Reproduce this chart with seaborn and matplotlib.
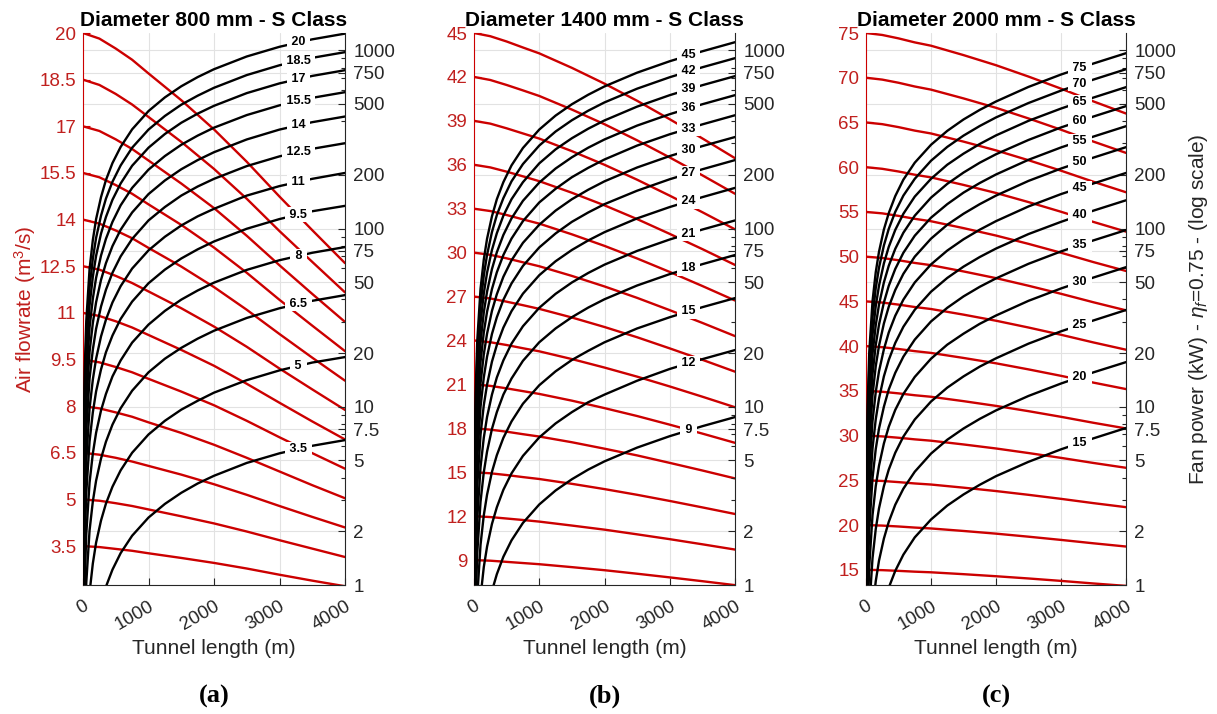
import numpy as np
import pandas as pd
import matplotlib
matplotlib.use("Agg")
import matplotlib.pyplot as plt
from matplotlib.ticker import FixedLocator, FixedFormatter, NullFormatter, NullLocator
import seaborn as sns

sns.set_theme(style="ticks")
plt.rcParams["font.family"] = ["Liberation Sans", "DejaVu Sans"]
plt.rcParams["mathtext.fontset"] = "custom"
plt.rcParams["mathtext.rm"] = "Liberation Sans"
plt.rcParams["mathtext.it"] = "Liberation Sans:italic"

RED = "#cc0000"
RED_TXT = "#c0201e"
INK = "#262626"

# Tunnel lengths (m) at which the curves are tabulated
length_flow = [0, 250, 500, 750, 1000, 1500, 2000, 2500, 3000, 3500, 4000]
length_power = [10, 25, 50, 100, 150, 200, 275, 350, 450, 575, 750, 1000,
                1250, 1500, 1750, 2000, 2500, 3000, 3500, 4000]
length_ticks = [0, 1000, 2000, 3000, 4000]

# Fan power axis (kW, log scale)
power_ticks = [1, 2, 5, 7.5, 10, 20, 50, 75, 100, 200, 500, 750, 1000]
power_minor = [3, 4, 6, 7, 8, 9, 30, 40, 60, 70, 80, 90, 300, 400, 600, 700, 800, 900]
power_lim = [1, 1250]

# ---- Diameter 800 mm ----
flow_a = [3.5, 5, 6.5, 8, 9.5, 11, 12.5, 14, 15.5, 17, 18.5, 20]
airflow_a = [
    [3.50, 3.47, 3.41, 3.35, 3.27, 3.12, 2.96, 2.78, 2.58, 2.39, 2.21],
    [5.00, 4.96, 4.88, 4.79, 4.68, 4.46, 4.23, 3.97, 3.69, 3.42, 3.15],
    [6.50, 6.44, 6.34, 6.22, 6.08, 5.80, 5.49, 5.15, 4.79, 4.44, 4.10],
    [8.00, 7.93, 7.80, 7.66, 7.48, 7.14, 6.76, 6.34, 5.90, 5.46, 5.04],
    [9.50, 9.41, 9.26, 9.09, 8.88, 8.47, 8.03, 7.53, 7.00, 6.49, 5.99],
    [11.0, 10.90, 10.73, 10.53, 10.29, 9.81, 9.30, 8.72, 8.11, 7.51, 6.93],
    [12.5, 12.39, 12.19, 11.96, 11.69, 11.15, 10.56, 9.91, 9.21, 8.54, 7.88],
    [14.0, 13.87, 13.65, 13.40, 13.09, 12.49, 11.83, 11.10, 10.32, 9.56, 8.82],
    [15.5, 15.36, 15.11, 14.83, 14.49, 13.83, 13.10, 12.29, 11.42, 10.59, 9.77],
    [17.0, 16.85, 16.58, 16.27, 15.90, 15.16, 14.37, 13.48, 12.53, 11.61, 10.71],
    [18.5, 18.33, 18.04, 17.70, 17.30, 16.50, 15.63, 14.67, 13.63, 12.64, 11.66],
    [20.0, 19.82, 19.50, 19.14, 18.70, 17.84, 16.90, 15.86, 14.74, 13.66, 12.60],
]
power_a = [
    [0.0333, 0.0818, 0.159, 0.310, 0.451, 0.591, 0.787, 0.978, 1.22, 1.51, 1.89, 2.39, 2.85, 3.29, 3.71, 4.10, 4.84, 5.48, 6.04, 6.5],
    [0.0973, 0.239, 0.465, 0.906, 1.32, 1.73, 2.30, 2.86, 3.56, 4.40, 5.52, 6.99, 8.34, 9.63, 10.8, 12.0, 14.1, 16.0, 17.7, 19.0],
    [0.217, 0.533, 1.03, 2.02, 2.94, 3.85, 5.12, 6.36, 7.94, 9.81, 12.3, 15.6, 18.6, 21.4, 24.1, 26.7, 31.5, 35.7, 39.3, 42.3],
    [0.403, 0.991, 1.93, 3.75, 5.46, 7.15, 9.53, 11.8, 14.8, 18.2, 22.9, 28.9, 34.5, 39.9, 44.9, 49.7, 58.6, 66.4, 73.1, 78.7],
    [0.686, 1.69, 3.28, 6.39, 9.30, 12.2, 16.2, 20.2, 25.1, 31.1, 38.9, 49.3, 58.8, 67.9, 76.4, 84.6, 99.7, 113, 125, 134],
    [1.05, 2.58, 5.01, 9.78, 14.2, 18.6, 24.8, 30.8, 38.5, 47.5, 59.6, 75.4, 89.9, 104, 117, 129, 153, 173, 190, 205],
    [1.54, 3.79, 7.36, 14.4, 20.9, 27.4, 36.5, 45.3, 56.5, 69.8, 87.4, 111, 132, 153, 172, 190, 224, 254, 280, 301],
    [2.18, 5.35, 10.4, 20.3, 29.5, 38.6, 51.5, 63.9, 79.7, 98.5, 123, 156, 186, 215, 242, 268, 316, 359, 395, 425],
    [2.98, 7.33, 14.2, 27.8, 40.4, 52.9, 70.5, 87.5, 109, 135, 169, 214, 255, 295, 332, 368, 433, 491, 541, 582],
    [3.96, 9.73, 18.9, 36.9, 53.6, 70.3, 93.6, 116, 145, 179, 225, 284, 339, 392, 441, 488, 575, 652, 718, 773],
    [5.00, 12.3, 23.9, 46.6, 67.7, 88.7, 118, 147, 183, 226, 284, 359, 428, 495, 556, 616, 726, 824, 907, 976],
    [6.35, 15.6, 30.3, 59.1, 86.1, 113, 150, 187, 233, 287, 360, 456, 544, 628, 707, 783, 923, 1046, 1152, 1240],
]
flow_ticks_a = [3.5, 5, 6.5, 8, 9.5, 11, 12.5, 14, 15.5, 17, 18.5, 20]
flow_lim_a = [2.25, 20]

# ---- Diameter 1400 mm ----
flow_b = [9, 12, 15, 18, 21, 24, 27, 30, 33, 36, 39, 42, 45]
airflow_b = [
    [9.00, 8.96, 8.88, 8.80, 8.72, 8.52, 8.31, 8.07, 7.82, 7.56, 7.29],
    [12.0, 11.94, 11.84, 11.74, 11.63, 11.36, 11.08, 10.76, 10.43, 10.08, 9.72],
    [15.0, 14.93, 14.81, 14.67, 14.54, 14.21, 13.85, 13.46, 13.04, 12.60, 12.15],
    [18.0, 17.91, 17.77, 17.60, 17.44, 17.05, 16.61, 16.15, 15.64, 15.12, 14.58],
    [21.0, 20.90, 20.73, 20.54, 20.35, 19.89, 19.38, 18.84, 18.25, 17.64, 17.01],
    [24.0, 23.88, 23.69, 23.47, 23.26, 22.73, 22.15, 21.53, 20.86, 20.16, 19.44],
    [27.0, 26.87, 26.65, 26.41, 26.16, 25.57, 24.92, 24.22, 23.46, 22.68, 21.87],
    [30.0, 29.85, 29.61, 29.34, 29.07, 28.41, 27.69, 26.91, 26.07, 25.20, 24.30],
    [33.0, 32.84, 32.57, 32.27, 31.98, 31.25, 30.46, 29.60, 28.68, 27.72, 26.73],
    [36.0, 35.82, 35.53, 35.21, 34.88, 34.09, 33.23, 32.29, 31.28, 30.24, 29.16],
    [39.0, 38.81, 38.49, 38.14, 37.79, 36.93, 36.00, 34.98, 33.89, 32.76, 31.59],
    [42.0, 41.79, 41.45, 41.08, 40.70, 39.77, 38.77, 37.67, 36.50, 35.28, 34.02],
    [45.0, 44.78, 44.42, 44.01, 43.61, 42.62, 41.54, 40.37, 39.11, 37.80, 36.45],
]
power_b = [
    [0.0386, 0.0948, 0.186, 0.361, 0.529, 0.690, 0.926, 1.15, 1.44, 1.78, 2.23, 2.83, 3.39, 3.92, 4.44, 4.94, 5.90, 6.84, 7.78, 8.75],
    [0.0917, 0.225, 0.441, 0.858, 1.26, 1.64, 2.20, 2.73, 3.42, 4.23, 5.30, 6.73, 8.06, 9.33, 10.6, 11.7, 14.0, 16.3, 18.5, 20.8],
    [0.180, 0.441, 0.863, 1.68, 2.46, 3.21, 4.31, 5.35, 6.69, 8.27, 10.4, 13.2, 15.8, 18.3, 20.6, 23.0, 27.5, 31.8, 36.2, 40.7],
    [0.313, 0.769, 1.51, 2.93, 4.29, 5.60, 7.51, 9.33, 11.7, 14.4, 18.1, 23.0, 27.5, 31.8, 36.0, 40.1, 47.9, 55.5, 63.1, 71.0],
    [0.490, 1.20, 2.35, 4.58, 6.70, 8.76, 11.7, 14.6, 18.2, 22.6, 28.3, 35.9, 43.0, 49.8, 56.3, 62.7, 74.9, 86.8, 98.7, 111],
    [0.745, 1.83, 3.58, 6.97, 10.2, 13.3, 17.9, 22.2, 27.8, 34.4, 43.1, 54.7, 65.5, 75.8, 85.7, 95.4, 114, 132, 150, 169],
    [1.07, 2.62, 5.13, 9.98, 14.6, 19.1, 25.6, 31.8, 39.8, 49.2, 61.7, 78.3, 93.8, 109, 123, 137, 163, 189, 215, 242],
    [1.44, 3.53, 6.91, 13.5, 19.7, 25.7, 34.5, 42.8, 53.6, 66.3, 83.1, 105, 126, 146, 165, 184, 220, 255, 290, 326],
    [1.91, 4.68, 9.16, 17.8, 26.1, 34.1, 45.7, 56.8, 71.0, 87.8, 110, 140, 167, 194, 219, 244, 292, 338, 384, 432],
    [2.47, 6.06, 11.9, 23.1, 33.8, 44.2, 59.2, 73.6, 92.0, 114, 143, 181, 217, 251, 284, 316, 378, 438, 498, 560],
    [3.16, 7.75, 15.2, 29.5, 43.2, 56.5, 75.8, 94.1, 118, 146, 182, 232, 278, 321, 363, 404, 483, 560, 637, 716],
    [3.98, 9.78, 19.2, 37.3, 54.5, 71.2, 95.5, 119, 148, 184, 230, 292, 350, 405, 458, 510, 609, 706, 803, 903],
    [4.90, 12.0, 23.5, 45.8, 67.0, 87.6, 117, 146, 182, 226, 283, 359, 430, 498, 563, 627, 749, 868, 987, 1110],
]
flow_ticks_b = [9, 12, 15, 18, 21, 24, 27, 30, 33, 36, 39, 42, 45]
flow_lim_b = [7.3, 45]

# ---- Diameter 2000 mm ----
flow_c = [15, 20, 25, 30, 35, 40, 45, 50, 55, 60, 65, 70, 75]
airflow_c = [
    [15.0, 14.96, 14.88, 14.79, 14.72, 14.51, 14.28, 14.03, 13.76, 13.47, 13.20],
    [20.0, 19.94, 19.84, 19.72, 19.62, 19.34, 19.04, 18.70, 18.34, 17.96, 17.60],
    [25.0, 24.93, 24.80, 24.65, 24.53, 24.18, 23.80, 23.38, 22.93, 22.45, 22.00],
    [30.0, 29.91, 29.76, 29.58, 29.43, 29.01, 28.56, 28.05, 27.51, 26.94, 26.40],
    [35.0, 34.90, 34.72, 34.51, 34.34, 33.85, 33.32, 32.73, 32.10, 31.43, 30.80],
    [40.0, 39.88, 39.68, 39.44, 39.24, 38.68, 38.08, 37.40, 36.68, 35.92, 35.20],
    [45.0, 44.87, 44.64, 44.37, 44.15, 43.52, 42.84, 42.08, 41.27, 40.41, 39.60],
    [50.0, 49.85, 49.60, 49.30, 49.05, 48.35, 47.60, 46.75, 45.85, 44.90, 44.00],
    [55.0, 54.84, 54.56, 54.23, 53.96, 53.19, 52.36, 51.43, 50.44, 49.39, 48.40],
    [60.0, 59.82, 59.52, 59.16, 58.86, 58.02, 57.12, 56.10, 55.02, 53.88, 52.80],
    [65.0, 64.81, 64.48, 64.09, 63.77, 62.86, 61.88, 60.78, 59.61, 58.37, 57.20],
    [70.0, 69.79, 69.44, 69.02, 68.67, 67.69, 66.64, 65.45, 64.19, 62.86, 61.60],
    [75.0, 74.78, 74.40, 73.95, 73.58, 72.53, 71.40, 70.13, 68.78, 67.35, 66.00],
]
power_c = [
    [0.0331, 0.0814, 0.159, 0.308, 0.449, 0.585, 0.779, 0.966, 1.20, 1.48, 1.85, 2.33, 2.79, 3.22, 3.65, 4.08, 4.91, 5.77, 6.65, 7.6],
    [0.0776, 0.191, 0.373, 0.721, 1.05, 1.37, 1.82, 2.26, 2.82, 3.47, 4.32, 5.46, 6.53, 7.55, 8.55, 9.54, 11.5, 13.5, 15.6, 17.8],
    [0.152, 0.374, 0.732, 1.41, 2.06, 2.69, 3.58, 4.44, 5.52, 6.80, 8.48, 10.7, 12.8, 14.8, 16.8, 18.7, 22.6, 26.5, 30.5, 34.9],
    [0.265, 0.650, 1.27, 2.46, 3.59, 4.67, 6.22, 7.72, 9.60, 11.8, 14.7, 18.6, 22.3, 25.7, 29.2, 32.5, 39.3, 46.1, 53.1, 60.7],
    [0.427, 1.05, 2.06, 3.97, 5.79, 7.54, 10.0, 12.5, 15.5, 19.1, 23.8, 30.1, 35.9, 41.6, 47.1, 52.5, 63.4, 74.4, 85.8, 98.0],
    [0.628, 1.54, 3.02, 5.83, 8.51, 11.1, 14.8, 18.3, 22.8, 28.1, 35.0, 44.2, 52.8, 61.1, 69.2, 77.2, 93.1, 109, 126, 144],
    [0.894, 2.20, 4.30, 8.30, 12.1, 15.8, 21.0, 26.1, 32.4, 39.9, 49.8, 62.9, 75.2, 87.0, 98.5, 110, 133, 156, 179, 205],
    [1.25, 3.06, 6.00, 11.6, 16.9, 22.0, 29.3, 36.4, 45.2, 55.7, 69.5, 87.7, 105, 121, 137, 153, 185, 217, 250, 286],
    [1.64, 4.02, 7.86, 15.2, 22.2, 28.9, 38.4, 47.7, 59.3, 73.1, 91.1, 115, 137, 159, 180, 201, 243, 285, 328, 375],
    [2.12, 5.21, 10.2, 19.7, 28.7, 37.4, 49.8, 61.8, 76.9, 94.7, 118, 149, 178, 206, 234, 261, 314, 369, 425, 486],
    [2.71, 6.65, 13.0, 25.2, 36.7, 47.8, 63.7, 78.9, 98.2, 121, 151, 190, 228, 263, 298, 333, 402, 471, 543, 621],
    [3.41, 8.39, 16.4, 31.7, 46.3, 60.3, 80.3, 99.5, 124, 153, 190, 240, 287, 332, 376, 420, 506, 594, 685, 783],
    [4.20, 10.3, 20.2, 39.0, 56.9, 74.1, 98.7, 122, 152, 188, 234, 295, 353, 409, 463, 516, 623, 731, 843, 963],
]
flow_ticks_c = [15, 20, 25, 30, 35, 40, 45, 50, 55, 60, 65, 70, 75]
flow_lim_c = [13.3, 75]

titles = ["Diameter 800 mm - S Class", "Diameter 1400 mm - S Class", "Diameter 2000 mm - S Class"]
captions = ["(a)", "(b)", "(c)"]

W, H = 1217, 714
fig = plt.figure(figsize=(W / 100, H / 100), dpi=100, facecolor="white")

LABEL_AT = 3290  # tunnel length where the power curves carry their flow label


def long_table(flows, rows, lengths, name):
    recs = []
    for q, row in zip(flows, rows):
        for L, v in zip(lengths, row):
            recs.append({"curve": q, "length": L, name: v})
    return pd.DataFrame(recs)


def draw_panel(rect, title, caption, flows, airflow, power, yticks, ylim,
               left_label, right_label):
    # background grid follows the fan-power ticks
    bg = fig.add_axes(rect, zorder=0)
    bg.set_xlim(0, 4000)
    bg.set_yscale("log")
    bg.set_ylim(*power_lim)
    bg.xaxis.set_major_locator(FixedLocator(length_ticks))
    bg.yaxis.set_major_locator(FixedLocator(power_ticks))
    bg.yaxis.set_minor_locator(NullLocator())
    bg.grid(True, which="major", color="#e2e2e2", lw=0.8)
    bg.tick_params(length=0, labelleft=False, labelbottom=False)
    for s in bg.spines.values():
        s.set_visible(False)

    # air flowrate (left, linear)
    ax = fig.add_axes(rect, zorder=1)
    ax.patch.set_visible(False)
    df_flow = long_table(flows, airflow, length_flow, "flow")
    sns.lineplot(data=df_flow, x="length", y="flow", units="curve", estimator=None,
                 color=RED, linewidth=1.7, ax=ax, legend=False)
    ax.set_xlim(0, 4000)
    ax.set_ylim(*ylim)
    ax.set_xticks(length_ticks)
    ax.set_xticklabels([f"{t}" for t in length_ticks], rotation=30, ha="right",
                       va="top", rotation_mode="anchor")
    ax.set_yticks(yticks)
    ax.set_yticklabels([f"{t:g}" for t in yticks])
    ax.tick_params(axis="x", direction="in", length=5, width=0.8, color=INK,
                   labelcolor=INK, labelsize=13.5, pad=9, bottom=True)
    ax.tick_params(axis="y", direction="in", length=5, width=0.8, color=RED,
                   labelcolor=RED_TXT, labelsize=13.5, pad=5, left=True)
    ax.spines["top"].set_visible(False)
    ax.spines["right"].set_visible(False)
    ax.spines["left"].set_color(RED)
    ax.spines["bottom"].set_color(INK)
    ax.spines["left"].set_linewidth(0.8)
    ax.spines["bottom"].set_linewidth(0.8)
    ax.set_xlabel("Tunnel length (m)", fontsize=15, color=INK, labelpad=4)
    ax.set_ylabel(left_label, fontsize=15, color=RED_TXT, labelpad=1)
    ax.set_title(title, fontsize=15, fontweight="bold", color="black", pad=5)

    # fan power (right, log)
    ax2 = ax.twinx()
    ax2.set_zorder(2)
    ax2.set_yscale("log")
    df_pow = long_table(flows, power, length_power, "power")
    sns.lineplot(data=df_pow, x="length", y="power", units="curve", estimator=None,
                 color="black", linewidth=1.7, ax=ax2, legend=False)
    ax2.set_xlim(0, 4000)
    ax2.set_ylim(*power_lim)
    ax2.yaxis.set_major_locator(FixedLocator(power_ticks))
    ax2.yaxis.set_major_formatter(FixedFormatter([f"{t:g}" for t in power_ticks]))
    ax2.yaxis.set_minor_locator(FixedLocator(power_minor))
    ax2.yaxis.set_minor_formatter(NullFormatter())
    ax2.tick_params(axis="y", which="major", direction="in", length=5, width=0.8,
                    color=INK, labelcolor=INK, labelsize=13.5, pad=6, right=True)
    ax2.tick_params(axis="y", which="minor", direction="in", length=3, width=0.8,
                    color=INK, right=True)
    for side in ("top", "left", "bottom"):
        ax2.spines[side].set_visible(False)
    ax2.spines["right"].set_color(INK)
    ax2.spines["right"].set_linewidth(0.8)
    ax2.set_ylabel(right_label, fontsize=15, color=INK, labelpad=8)

    for q, row in zip(flows, power):
        y = np.exp(np.interp(LABEL_AT, length_power, np.log(row)))
        ax2.text(LABEL_AT, y, f" {q:g} ", ha="center", va="center", fontsize=9,
                 fontweight="bold", color="black", zorder=6,
                 bbox=dict(boxstyle="square,pad=0.1", fc="white", ec="none"))

    cx = rect[0] + rect[2] / 2
    fig.text(cx, 1 - 696 / H, caption, ha="center", va="center", fontsize=19,
             fontweight="bold", family="Liberation Serif", color="black")


rects = [
    [83 / W, 129 / H, 262 / W, 552 / H],
    [474 / W, 129 / H, 261 / W, 552 / H],
    [866 / W, 129 / H, 260 / W, 552 / H],
]

draw_panel(rects[0], titles[0], captions[0], flow_a, airflow_a, power_a,
           flow_ticks_a, flow_lim_a, "Air flowrate (m$^3$/s)", "")
draw_panel(rects[1], titles[1], captions[1], flow_b, airflow_b, power_b,
           flow_ticks_b, flow_lim_b, "", "")
draw_panel(rects[2], titles[2], captions[2], flow_c, airflow_c, power_c,
           flow_ticks_c, flow_lim_c, "",
           r"Fan power (kW) - $\eta_f$=0.75 - (log scale)")

fig.savefig("out.png", dpi=100, facecolor="white")
